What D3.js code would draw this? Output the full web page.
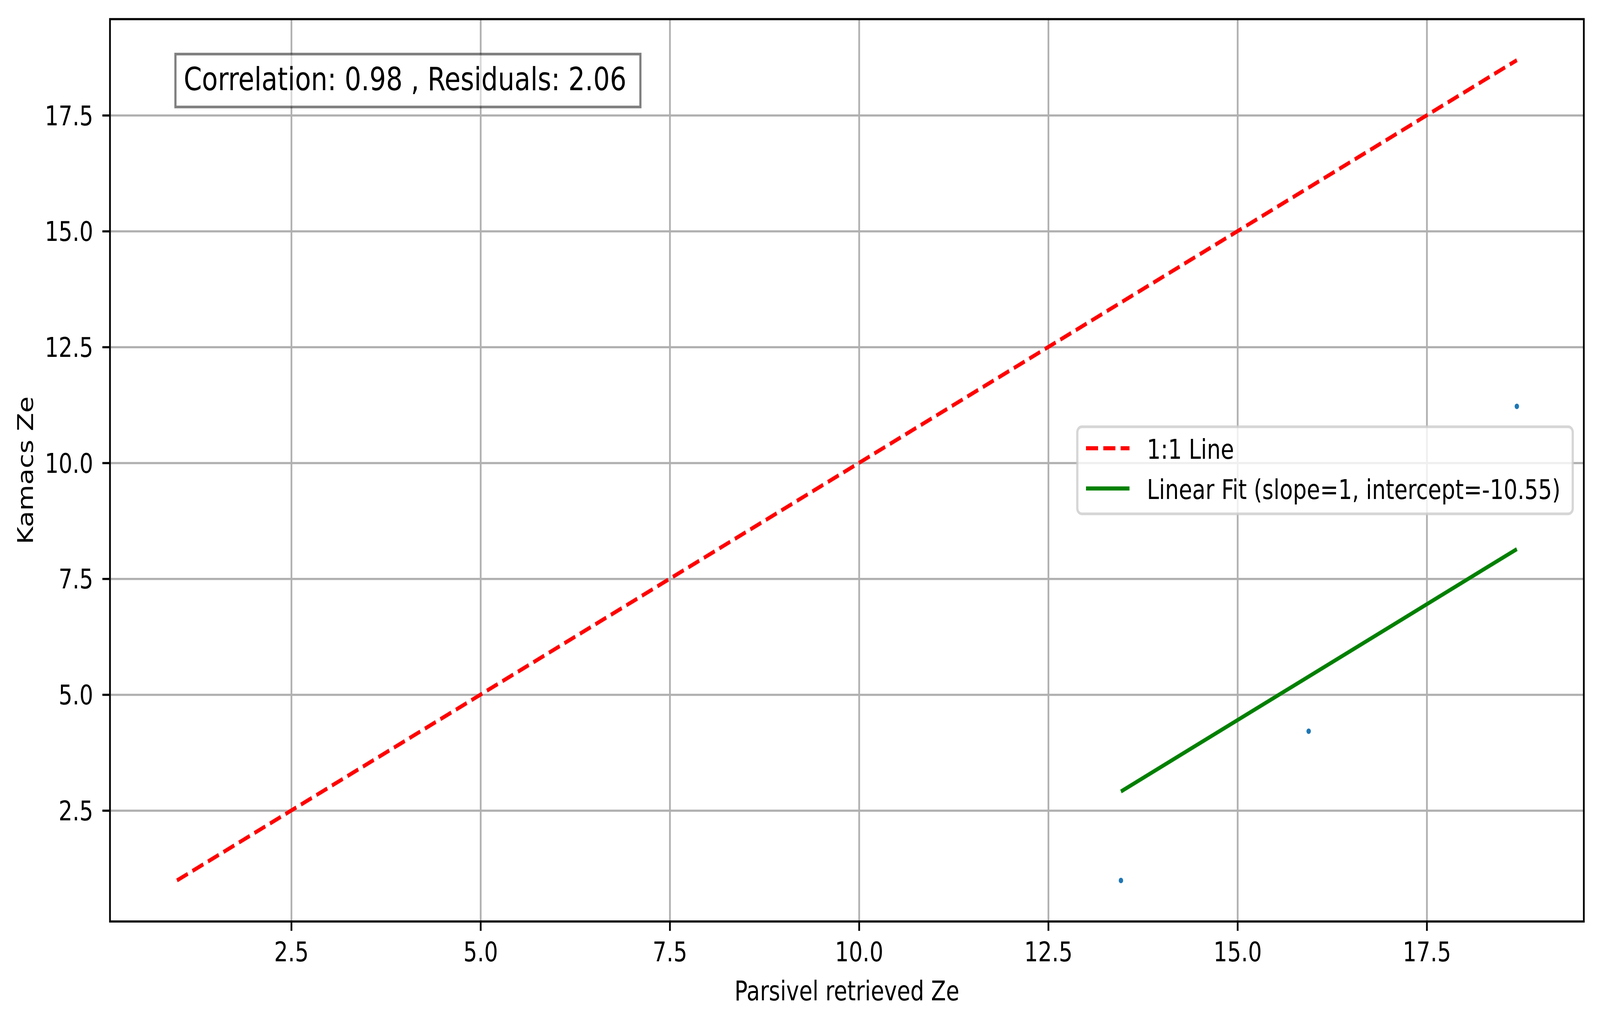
<!DOCTYPE html>
<html>
<head>
<meta charset="utf-8">
<script src="https://cdn.jsdelivr.net/npm/d3@7"></script>
<style>
  html, body { margin: 0; padding: 0; background: #fff; overflow: hidden; }
  #chart svg { display: block; width: 100vw; height: 100vh; }
  svg text { font-family: "DejaVu Sans", sans-serif; fill: #000; }
</style>
</head>
<body>
<div id="chart"></div>
<script>
// Data
const parsivelZe = [13.46, 15.94, 18.69];
const kamacsZe = [0.99, 4.21, 11.22];
const fitSlope = 1;
const fitIntercept = -10.55;
const correlation = 0.98;
const residuals = 2.06;
const xTicks = [2.5, 5.0, 7.5, 10.0, 12.5, 15.0, 17.5];
const yTicks = [2.5, 5.0, 7.5, 10.0, 12.5, 15.0, 17.5];
const legendLabels = ['1:1 Line', `Linear Fit (slope=${fitSlope}, intercept=${fitIntercept})`];

// Configuration (1pt ~ 6.86px), drawn in a 5048x2620 viewBox
const width = 5048;
const height = 2620;
const margin = { top: 49, right: 51, bottom: 260, left: 347 };
const graphWidth = width - margin.left - margin.right;
const graphHeight = height - margin.top - margin.bottom;
const fs = 68.6;       // 10pt
const fsBox = 82.3;    // 12pt
const lw = 10.3;       // 1.5pt
const thin = 5.5;      // 0.8pt

// 1:1 line spans the min/max of all values
const allVals = parsivelZe.concat(kamacsZe);
const lo = d3.min(allVals), hi = d3.max(allVals);
const pad = (hi - lo) * 0.05;

const xScale = d3.scaleLinear().domain([lo - pad, hi + pad]).range([0, graphWidth]);
const yScale = d3.scaleLinear().domain([lo - pad, hi + pad]).range([graphHeight, 0]);
const fmt = d3.format('.1f');

const svg = d3.select('#chart')
  .append('svg')
  .attr('viewBox', `0 0 ${width} ${height}`)
  .attr('preserveAspectRatio', 'none')
  .append('g')
  .attr('transform', `translate(${margin.left},${margin.top})`);

// Grid lines
svg.append('g')
  .call(d3.axisBottom(xScale).tickValues(xTicks).tickSize(graphHeight).tickFormat(''))
  .call(g => g.select('.domain').remove())
  .selectAll('line').attr('stroke', '#b0b0b0').attr('stroke-width', thin);
svg.append('g')
  .call(d3.axisLeft(yScale).tickValues(yTicks).tickSize(-graphWidth).tickFormat(''))
  .call(g => g.select('.domain').remove())
  .selectAll('line').attr('stroke', '#b0b0b0').attr('stroke-width', thin);

// Scatter points
svg.selectAll('.pt')
  .data(parsivelZe.map((d, i) => [d, kamacsZe[i]]))
  .enter()
  .append('circle')
  .attr('class', 'pt')
  .attr('cx', d => xScale(d[0]))
  .attr('cy', d => yScale(d[1]))
  .attr('r', 7)
  .attr('fill', '#1f77b4');

const line = d3.line().x(d => xScale(d[0])).y(d => yScale(d[1]));

// 1:1 line
svg.append('path')
  .attr('d', line([[lo, lo], [hi, hi]]))
  .attr('fill', 'none')
  .attr('stroke', '#ff0000')
  .attr('stroke-width', lw)
  .attr('stroke-dasharray', '38.1,16.5');

// Linear fit line
const xMin = d3.min(parsivelZe), xMax = d3.max(parsivelZe);
svg.append('path')
  .attr('d', line([[xMin, fitSlope * xMin + fitIntercept], [xMax, fitSlope * xMax + fitIntercept]]))
  .attr('fill', 'none')
  .attr('stroke', '#008000')
  .attr('stroke-width', lw);

// Frame
svg.append('rect')
  .attr('width', graphWidth)
  .attr('height', graphHeight)
  .attr('fill', 'none')
  .attr('stroke', '#000')
  .attr('stroke-width', thin);

// Axes
const xAxis = svg.append('g')
  .attr('transform', `translate(0,${graphHeight})`)
  .call(d3.axisBottom(xScale).tickValues(xTicks).tickFormat(fmt).tickSize(24).tickPadding(29));
xAxis.select('.domain').remove();
xAxis.selectAll('line').attr('stroke', '#000').attr('stroke-width', thin);
xAxis.selectAll('text').attr('font-size', fs).attr('font-family', 'DejaVu Sans');

const yAxis = svg.append('g')
  .call(d3.axisLeft(yScale).tickValues(yTicks).tickFormat(fmt).tickSize(24).tickPadding(29));
yAxis.select('.domain').remove();
yAxis.selectAll('line').attr('stroke', '#000').attr('stroke-width', thin);
yAxis.selectAll('text').attr('font-size', fs).attr('font-family', 'DejaVu Sans').attr('dy', '0.36em');

// Axis labels
svg.append('text')
  .attr('x', graphWidth / 2)
  .attr('y', 2562 - margin.top)
  .attr('text-anchor', 'middle')
  .attr('font-size', fs)
  .text('Parsivel retrieved Ze');

svg.append('text')
  .attr('transform', `translate(${103 - margin.left},${graphHeight / 2}) rotate(-90)`)
  .attr('text-anchor', 'middle')
  .attr('font-size', fs)
  .text('Kamacs Ze');

// Stats box (white, alpha 0.5)
const boxG = svg.append('g');
const tx = graphWidth * 0.05;
const tBase = 231 - margin.top;
const boxRect = boxG.append('rect');
const boxText = boxG.append('text')
  .attr('x', tx)
  .attr('y', tBase)
  .attr('font-size', fsBox)
  .text(`Correlation: ${correlation} , Residuals: ${residuals}`);
const tLen = boxText.node().getComputedTextLength();
boxRect
  .attr('x', tx - 26)
  .attr('y', tBase - 92.5)
  .attr('width', tLen + 26 + 44)
  .attr('height', 135.5)
  .attr('fill', '#fff')
  .attr('fill-opacity', 0.5)
  .attr('stroke', '#000')
  .attr('stroke-opacity', 0.5)
  .attr('stroke-width', 6.8);

// Legend (center right)
const legend = svg.append('g');
const legRect = legend.append('rect');
const legItems = legend.selectAll('.item')
  .data(legendLabels)
  .enter()
  .append('g')
  .attr('class', 'item');
legItems.append('text')
  .attr('font-size', fs)
  .text(d => d);
const maxLen = d3.max(legItems.select('text').nodes(), n => n.getComputedTextLength());
const legW = maxLen + 258;
const legH = 223;
const legRight = graphWidth - 35;
const legLeft = legRight - legW;
const legTop = graphHeight / 2 - legH / 2;
legRect
  .attr('x', legLeft)
  .attr('y', legTop)
  .attr('width', legW)
  .attr('height', legH)
  .attr('rx', 14)
  .attr('fill', '#fff')
  .attr('fill-opacity', 0.8)
  .attr('stroke', '#cccccc')
  .attr('stroke-opacity', 0.8)
  .attr('stroke-width', 7);
legItems.attr('transform', (d, i) => `translate(${legLeft},${legTop + 55 + i * 103})`);
legItems.select('text').attr('x', 219.5).attr('y', 27);
legItems.append('line')
  .attr('x1', 27.4)
  .attr('x2', 164.6)
  .attr('stroke', (d, i) => i === 0 ? '#ff0000' : '#008000')
  .attr('stroke-width', lw)
  .attr('stroke-dasharray', (d, i) => i === 0 ? '38.1,16.5' : null);
</script>
</body>
</html>
